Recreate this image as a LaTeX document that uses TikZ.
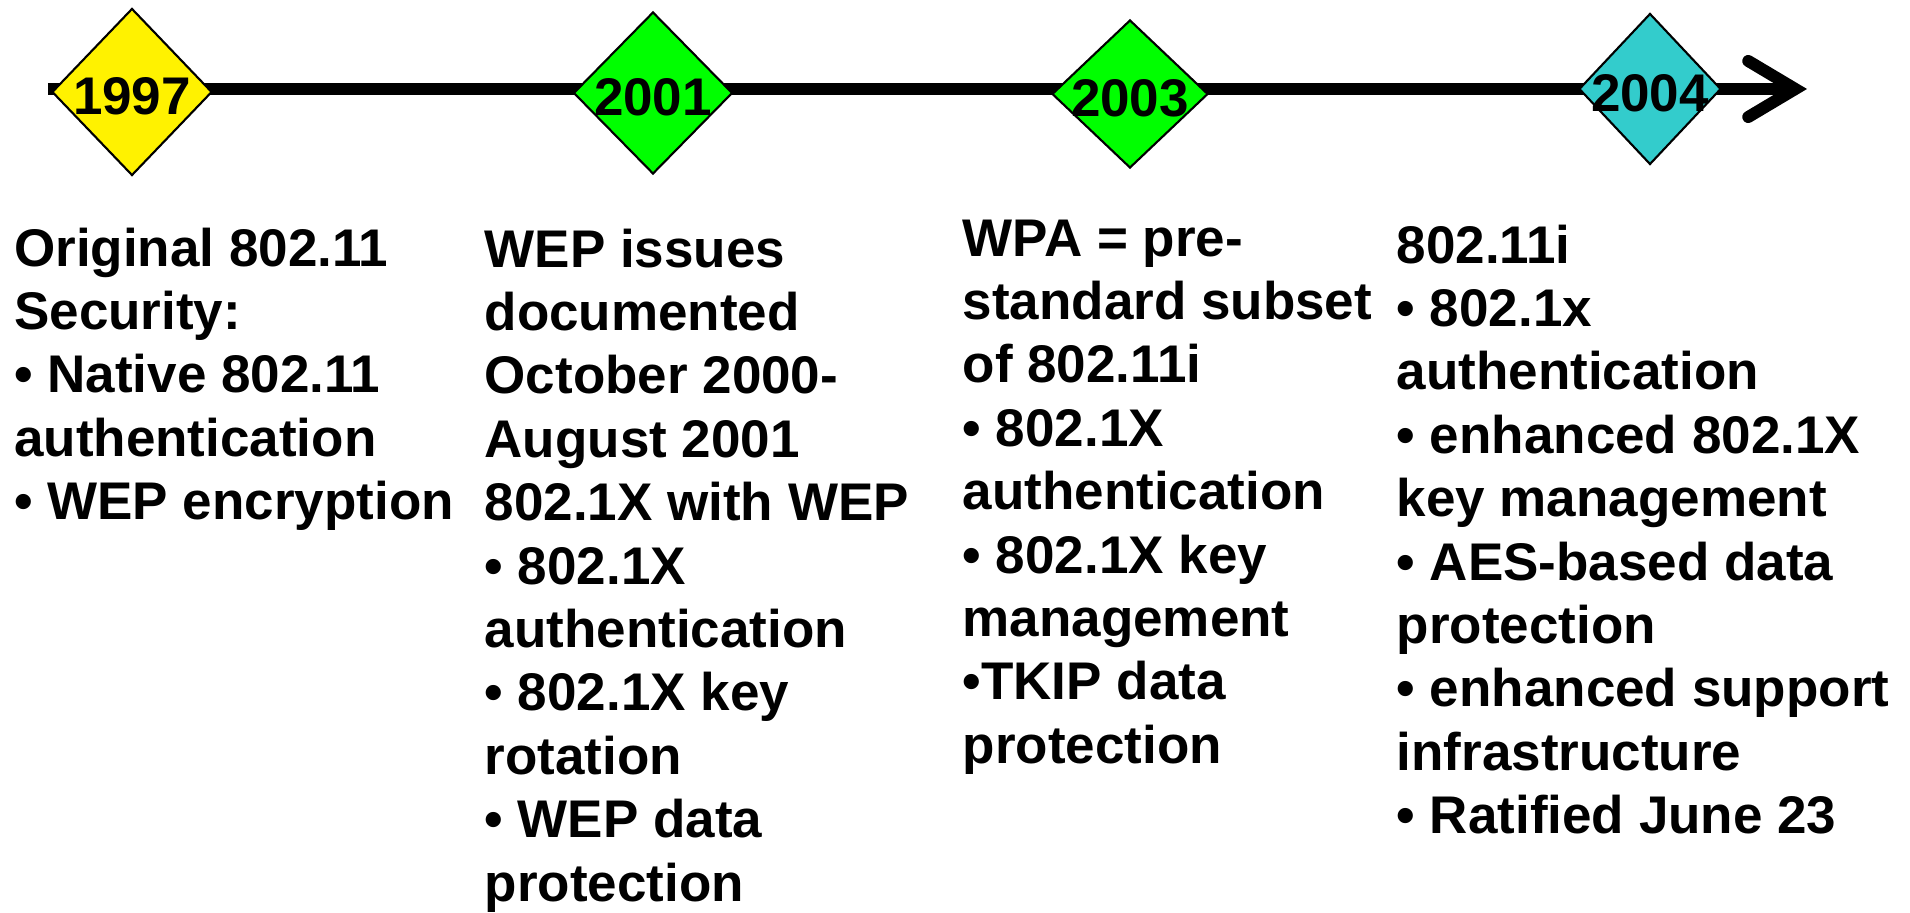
\documentclass[tikz,border=0pt]{standalone}
\usepackage{fontspec}
\setmainfont{Liberation Sans}
\usetikzlibrary{shapes,arrows.meta,positioning}
\definecolor{tealyear}{HTML}{33CCCC}

\begin{document}
\begin{tikzpicture}[
  yeartext/.style={inner sep=0pt, yshift=-0.045cm, font=\fontsize{15.08}{18.04}\selectfont\bfseries},
  year/.style={draw, diamond, line width=0.6pt, inner sep=0pt, label={[yeartext]center:#1}},
  desc/.style={anchor=north west, inner sep=0pt, align=left, font=\fontsize{15.08}{18.04}\selectfont\bfseries}
]
\useasboundingbox (0,0) rectangle (19.1,-9.13);

% 时间轴
\coordinate (start) at (0.48,-0.89);
\coordinate (end) at (18.07,-0.89);
\draw[line width=0.12cm, -{Straight Barb[length=0.47cm, width=0.56cm, line cap=round, line join=miter]}] (start) -- (end);

% 年份
\node[year=1997, fill=yellow, minimum width=1.60cm, minimum height=1.67cm] (y1997) at (1.32,-0.92) {};
\node[year=2001, fill=green, minimum width=1.59cm, minimum height=1.62cm] (y2001) at (6.53,-0.93) {};
\node[year=2003, fill=green, minimum width=1.56cm, minimum height=1.48cm] (y2003) at (11.30,-0.94) {};
\node[year=2004, fill=tealyear, minimum width=1.42cm, minimum height=1.51cm] (y2004) at (16.50,-0.89) {};

% 说明文字
\node[desc] (orig) at (0.135,-2.27) {Original 802.11\\Security:\\• Native 802.11\\authentication\\• WEP encryption};
\node[desc] (wep) at (4.84,-2.28) {WEP issues\\documented\\October 2000-\\August 2001\\802.1X with WEP\\• 802.1X\\authentication\\• 802.1X key\\rotation\\• WEP data\\protection};
\node[desc] (wpa) at (9.62,-2.19) {WPA = pre-\\standard subset\\of 802.11i\\• 802.1X\\authentication\\• 802.1X key\\management\\•TKIP data\\protection};
\node[desc] (dot11i) at (13.96,-2.24) {802.11i\\• 802.1x\\authentication\\• enhanced 802.1X\\key management\\• AES-based data\\protection\\• enhanced support\\infrastructure\\• Ratified June 23};
\end{tikzpicture}
\end{document}
